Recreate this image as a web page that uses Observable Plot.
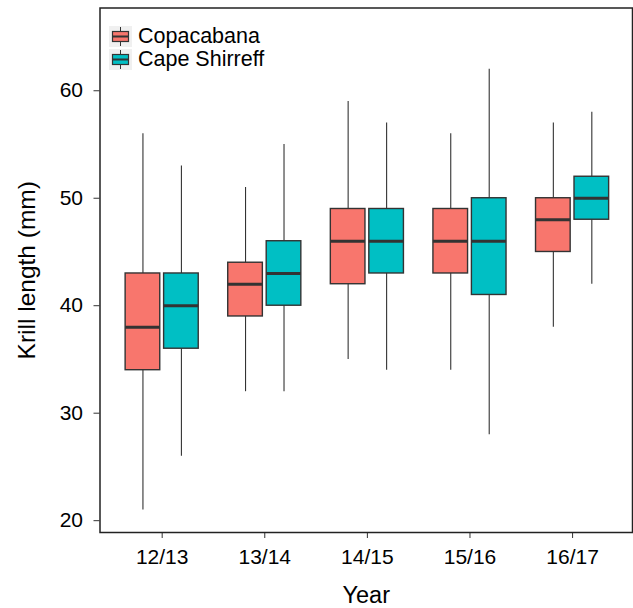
<!DOCTYPE html>
<html>
<head>
<meta charset="utf-8">
<script src="https://cdn.jsdelivr.net/npm/d3@7"></script>
<script src="https://cdn.jsdelivr.net/npm/@observablehq/plot@0.6"></script>
<style>
  html, body { margin: 0; padding: 0; background: #fff; }
  #wrap { position: relative; width: 633px; height: 608px; font-family: "Liberation Sans", Arial, sans-serif; }
  #legend { position: absolute; left: 109px; top: 25px; font-size: 21.5px; color: #000; }
  .item { display: flex; align-items: center; height: 23px; }
  .item svg { margin-right: 6px; }
  g[aria-label="x-axis label"] { font-size: 23.5px; }
  g[aria-label="y-axis label"] { font-size: 24.5px; }
</style>
</head>
<body>
<div id="wrap"></div>
<script>
const years = ["12/13", "13/14", "14/15", "15/16", "16/17"];
const sites = ["Copacabana", "Cape Shirreff"];
const siteColors = ["#F8766D", "#00BFC4"];

const copaMin = [21, 32, 35, 34, 38];
const copaQ1  = [34, 39, 42, 43, 45];
const copaMed = [38, 42, 46, 46, 48];
const copaQ3  = [43, 44, 49, 49, 50];
const copaMax = [56, 51, 59, 56, 57];

const capeMin = [26, 32, 34, 28, 42];
const capeQ1  = [36, 40, 43, 41, 48];
const capeMed = [40, 43, 46, 46, 50];
const capeQ3  = [43, 46, 49, 50, 52];
const capeMax = [53, 55, 57, 62, 58];

const yTicks = [20, 30, 40, 50, 60];

const dodge = 0.1875, half = 0.16875;
const rows = [];
years.forEach((yr, i) => {
  [[copaMin, copaQ1, copaMed, copaQ3, copaMax], [capeMin, capeQ1, capeMed, capeQ3, capeMax]].forEach((s, k) => {
    const cx = i + 1 + (k === 0 ? -dodge : dodge);
    rows.push({site: sites[k], x: cx, xl: cx - half, xr: cx + half,
      min: s[0][i], q1: s[1][i], med: s[2][i], q3: s[3][i], max: s[4][i]});
  });
});

const chart = Plot.plot({
  width: 633,
  height: 608,
  marginLeft: 99.5,
  marginRight: 1,
  marginTop: 7.5,
  marginBottom: 76,
  style: {fontFamily: "'Liberation Sans', Arial, sans-serif", fontSize: "20px", color: "#000", background: "#fff"},
  x: {type: "linear", domain: [0.394, 5.584]},
  y: {domain: [18.9, 67.7]},
  color: {domain: sites, range: siteColors},
  marks: [
    Plot.axisX({ticks: [1, 2, 3, 4, 5], tickFormat: d => years[d - 1], tickSize: 6, tickPadding: 11,
      stroke: "#333", fontSize: 21, label: "Year", labelAnchor: "center", labelArrow: "none", labelOffset: 70}),
    Plot.axisY({ticks: yTicks, tickSize: 6, tickPadding: 11, stroke: "#333", fontSize: 21,
      label: "Krill length (mm)", labelAnchor: "center", labelArrow: "none", labelOffset: 82}),
    Plot.ruleX(rows, {x: "x", y1: "min", y2: "max", stroke: "#333", strokeWidth: 1.1}),
    Plot.rect(rows, {x1: "xl", x2: "xr", y1: "q1", y2: "q3", fill: "site", stroke: "#333", strokeWidth: 1.4}),
    Plot.ruleY(rows, {y: "med", x1: "xl", x2: "xr", stroke: "#333", strokeWidth: 3}),
    Plot.frame({stroke: "#222", strokeWidth: 1.5})
  ]
});

const wrap = document.getElementById("wrap");
wrap.appendChild(chart);

const legend = document.createElement("div");
legend.id = "legend";
sites.forEach((s, k) => {
  const item = document.createElement("div");
  item.className = "item";
  item.innerHTML = `<svg width="23" height="21" viewBox="0 0 23 21">
    <rect x="0" y="0" width="23" height="21" fill="#f0f0f0"/>
    <line x1="11.5" y1="1" x2="11.5" y2="20" stroke="#333" stroke-width="1"/>
    <rect x="3.5" y="5.5" width="16" height="10" fill="${siteColors[k]}" stroke="#333" stroke-width="1.2"/>
    <line x1="3.5" y1="10.5" x2="19.5" y2="10.5" stroke="#333" stroke-width="2"/>
  </svg><span>${s}</span>`;
  legend.appendChild(item);
});
wrap.appendChild(legend);
</script>
</body>
</html>
